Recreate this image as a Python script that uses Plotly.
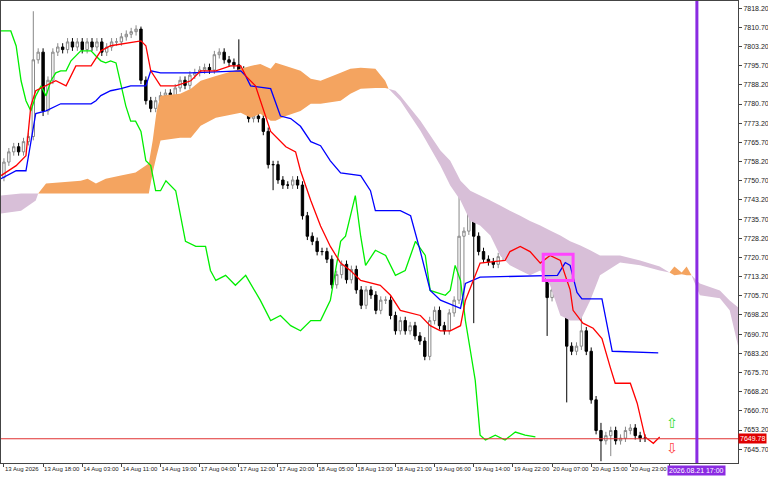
import plotly.graph_objs as go

# hourly closes, bar 0 = 13 Aug 2026
closes = [7758, 7762, 7764, 7762, 7766, 7768, 7798, 7801, 7778, 7790,
          7801, 7803, 7802, 7805, 7803, 7805, 7802, 7805, 7803, 7805,
          7801, 7803, 7805, 7805, 7807, 7808, 7809, 7810, 7790, 7782,
          7779, 7782, 7784, 7785, 7783, 7787, 7790, 7788, 7792, 7793,
          7794, 7795, 7794, 7800, 7801, 7798, 7797, 7796, 7794, 7782,
          7775, 7776, 7775, 7770, 7757, 7757, 7751, 7749, 7749, 7751,
          7749, 7737, 7729, 7727, 7723, 7723, 7720, 7710, 7714, 7718,
          7712, 7716, 7708, 7702, 7708, 7706, 7700, 7704, 7704, 7698,
          7692, 7696, 7692, 7694, 7690, 7688, 7682, 7696, 7700, 7694,
          7692, 7699, 7704, 7729, 7731, 7743, 7729, 7723, 7720, 7719,
          7718, 7721, 7725, 7723, 7721, 7720, 7722, 7723, 7723, 7725,
          7720, 7705, 7708, 7712, 7708, 7686, 7684, 7686, 7692, 7684,
          7665, 7653, 7649, 7651, 7653, 7649, 7650, 7653, 7654, 7651,
          7650, 7650]
first_open = 7752
long_highs = {6: 7817, 28: 7811, 48: 7806, 93: 7748, 95: 7745, 118: 7712, 122: 7656}
long_lows = {8: 7776, 55: 7747, 94: 7700, 96: 7695, 111: 7690, 115: 7664, 122: 7641, 124: 7643}

tenkan = [(-0.6, 7752.7), (2.5, 7756.6), (4.5, 7760.5), (5.5, 7780), (6.5, 7785.9), (8.6, 7787.8),
          (10.6, 7789.8), (12.7, 7787.8), (13.7, 7791.7), (14.7, 7795.6), (17.8, 7795.6), (19.8, 7801.5),
          (21.8, 7803.5), (25.9, 7804.6), (28, 7805.4), (29, 7803.5), (30, 7793.7), (32, 7787.8),
          (35.1, 7787.8), (38.2, 7789.8), (40.2, 7793.7), (43.3, 7793.7), (46.3, 7795.6), (48.4, 7795.6),
          (49.4, 7791.7), (51.4, 7787.8), (52.4, 7782), (53.5, 7776), (54.5, 7770), (57.6, 7764),
          (59.6, 7762), (60.6, 7754.6), (62.7, 7743), (64.7, 7733), (66.7, 7725), (68.8, 7718.5),
          (70.8, 7715.6), (72.9, 7711.7), (76.9, 7709.8), (79, 7705.9), (81, 7700), (85.1, 7698),
          (87.1, 7694), (89.2, 7692), (91.2, 7692), (93.3, 7694), (94.3, 7703.9), (97.3, 7718.5),
          (102.4, 7719.5), (103.4, 7723), (105.5, 7725), (107.5, 7723), (109.6, 7718.5), (111.6, 7721.5),
          (113.7, 7719.5), (114.7, 7713.7), (115.7, 7708), (116.3, 7700), (118.3, 7695), (120.4, 7693),
          (122.2, 7689), (123.9, 7677.7), (124.9, 7671.5), (128, 7671.5), (129.4, 7663.7), (131, 7650.5),
          (132.7, 7648), (134, 7650.5)]
kijun = [(-0.6, 7751.5), (2.5, 7754.6), (4.5, 7754.6), (5.5, 7766), (6.5, 7777), (8.6, 7778),
         (10.6, 7780), (11.6, 7780.8), (17.8, 7780.8), (18.8, 7782), (19.8, 7784), (21.8, 7785.9),
         (23.9, 7786.7), (25.9, 7787.8), (29, 7787.8), (30, 7793.7), (32, 7792.9), (38.2, 7792.9),
         (48.4, 7793.7), (49.4, 7791.7), (50.4, 7787.8), (54.5, 7786.7), (56.5, 7776), (58.6, 7775),
         (60.6, 7772), (62.7, 7766), (64.7, 7764.4), (66.7, 7758.5), (68.8, 7753.8), (72.9, 7752.7),
         (74.9, 7746.8), (75.9, 7739), (81, 7739), (83.1, 7737), (85.1, 7723), (87.1, 7707.8),
         (89.2, 7704), (93.3, 7700.8), (94.3, 7710.5), (97.3, 7713), (113.1, 7713.7), (114.7, 7718.7),
         (115.7, 7717.6), (117.1, 7707), (118.1, 7704.5), (122.2, 7704.5), (124.3, 7684), (133.7, 7683.4)]
chikou = [(-0.6, 7809.3), (1.4, 7809.3), (2.5, 7803.4), (3.5, 7789.8), (4.5, 7782), (5.5, 7778),
          (6.5, 7783.9), (7.6, 7787.8), (8.6, 7783.9), (9.6, 7789.8), (10.6, 7792.9), (11.6, 7793.7),
          (12.7, 7793.7), (13.7, 7797.6), (15.7, 7801.5), (17.8, 7801.5), (18.8, 7799.5), (19.8, 7797.6),
          (20.8, 7796.8), (21.8, 7797.6), (22.9, 7796.8), (23.9, 7787.8), (24.9, 7780), (25.9, 7774),
          (26.9, 7774), (28, 7770), (29, 7758.5), (30, 7756.6), (31, 7746.8), (32, 7746.8), (33.1, 7750.7),
          (35.1, 7746.8), (37.1, 7727), (39.2, 7725), (41.2, 7725), (42.2, 7715.6), (43.3, 7711.7),
          (45.3, 7713.7), (47.3, 7709.8), (49.4, 7713.7), (52.4, 7703.9), (54.5, 7696), (56.5, 7698),
          (58.6, 7694), (60.6, 7692), (62.7, 7696), (64.7, 7696), (66.7, 7703.9), (68.8, 7727),
          (69.8, 7729), (70.8, 7737), (71.8, 7744.9), (72.9, 7729), (73.9, 7717.6), (75.9, 7723.5),
          (78, 7721.5), (80, 7713.7), (82, 7715.6), (84.1, 7727), (86.1, 7721.5), (87.1, 7707.8),
          (90.2, 7705.9), (91.2, 7707.8), (92.2, 7717.6), (93.3, 7711.7), (94.3, 7696), (95.3, 7684.4),
          (96.3, 7672.7), (97.3, 7651.2), (98.4, 7649.3), (100.4, 7651.2), (102.4, 7649.3),
          (104.5, 7652.4), (106.5, 7651.2), (108.6, 7650.5)]

cloud_x = [-0.6, 3.5, 6.5, 7, 8.6, 15.7, 17.1, 18.8, 20.8, 23.9, 26.9, 29.6, 30.4, 31.2, 32, 36,
           38.2, 40.2, 43.3, 48.4, 50.4, 52.4, 54.5, 55.5, 57.6, 60.6, 62.7, 64.7, 68.8, 70.8, 72.9,
           75.9, 77.9, 78.6, 80, 81, 85.1, 89.2, 91.2, 93.3, 95.3, 97.3, 99.4, 101.4, 103.4, 105.5,
           107.5, 109.6, 111.6, 113.7, 115.7, 117.8, 119.8, 121.8, 125.9, 130, 134, 136, 137, 138.5,
           139.5, 140.5, 142.2, 146.3, 148.3, 150]
span_a = [7737.9, 7739, 7743, 7745.7, 7749.6, 7750.7, 7751.5, 7749.6, 7751.5, 7752.7, 7753.9, 7757.4,
          7766.4, 7778, 7783.9, 7784.7, 7786.7, 7789.8, 7791.7, 7794.5, 7795.6, 7796.4, 7794.5, 7796.8,
          7795.6, 7793.7, 7790.6, 7789.8, 7792.9, 7794.5, 7794.9, 7794.5, 7789.8, 7786.7, 7783.9, 7782,
          7770.3, 7756.6, 7748.8, 7743, 7735, 7733.2, 7729.3, 7721.5, 7717.6, 7715.6, 7713.7, 7715.6,
          7709.8, 7698, 7696, 7696, 7703.9, 7713.7, 7718.7, 7717.6, 7715.6, 7714.8, 7717.2, 7714.8,
          7717.2, 7713.7, 7705.9, 7704.7, 7700, 7686.2]
span_b = [7744.9, 7745.7, 7745.7, 7745.7, 7745.7, 7745.7, 7745.7, 7745.7, 7745.7, 7745.7, 7745.7, 7745.7,
          7753.9, 7760.5, 7766.4, 7767.5, 7767.5, 7772.2, 7775.3, 7777.3, 7775.3, 7776.9, 7774.2, 7774.2,
          7776, 7778, 7780.8, 7780.8, 7782, 7784.7, 7786.7, 7787, 7787, 7786.7, 7785.9, 7783.9,
          7774.2, 7762.5, 7758.5, 7750.7, 7746.8, 7744.9, 7743, 7741, 7739, 7737, 7735, 7733.2,
          7731.2, 7729.3, 7727, 7725.4, 7723.5, 7721.5, 7721.5, 7719.5, 7717.2, 7714.8, 7713.7, 7714.1,
          7713.7, 7713.7, 7710.5, 7707.8, 7703.9, 7701.2]

y_ticks = [7645.7 + 7.5 * k for k in range(24)]
x_tick_bars = [8 * k for k in range(18)]
x_tick_text = ["13 Aug 2026", "13 Aug 18:00", "14 Aug 03:00", "14 Aug 11:00", "14 Aug 19:00",
               "17 Aug 04:00", "17 Aug 12:00", "17 Aug 20:00", "18 Aug 05:00", "18 Aug 13:00",
               "18 Aug 21:00", "19 Aug 06:00", "19 Aug 14:00", "19 Aug 22:00", "20 Aug 07:00",
               "20 Aug 15:00", "20 Aug 23:00", "21 Aug"]
last_price = 7649.78
now_bar = 141.6

bars = list(range(len(closes)))
opens = [first_open] + closes[:-1]
highs = [long_highs.get(i, max(o, c) + 1.5) for i, (o, c) in enumerate(zip(opens, closes))]
lows = [long_lows.get(i, min(o, c) - 1.5) for i, (o, c) in enumerate(zip(opens, closes))]

fig = go.Figure()

# cloud polygons, split wherever the spans cross or touch
def flush(seg):
    up = sum(p[1] - p[2] for p in seg) > 0
    xs = [p[0] for p in seg] + [p[0] for p in seg[::-1]]
    ys = [p[1] for p in seg] + [p[2] for p in seg[::-1]]
    fig.add_trace(go.Scatter(x=xs, y=ys, fill='toself', mode='none',
                             fillcolor='#F4A460' if up else '#D8BFD8', hoverinfo='skip'))

seg = [(cloud_x[0], span_a[0], span_b[0])]
for i in range(1, len(cloud_x)):
    x0, a0, b0 = cloud_x[i - 1], span_a[i - 1], span_b[i - 1]
    x1, a1, b1 = cloud_x[i], span_a[i], span_b[i]
    d0, d1 = a0 - b0, a1 - b1
    if d0 * d1 < 0:
        t = d0 / (d0 - d1)
        xc, yc = x0 + t * (x1 - x0), a0 + t * (a1 - a0)
        seg.append((xc, yc, yc))
        flush(seg)
        seg = [(xc, yc, yc)]
    seg.append((x1, a1, b1))
    if d1 == 0 and len(seg) > 1:
        flush(seg)
        seg = [(x1, a1, b1)]
if len(seg) > 1:
    flush(seg)

fig.add_trace(go.Candlestick(
    x=bars, open=opens, high=highs, low=lows, close=closes, whiskerwidth=0,
    increasing=dict(line=dict(color='#888888', width=1), fillcolor='white'),
    decreasing=dict(line=dict(color='black', width=1), fillcolor='black')))

for pts, col in [(chikou, '#00EE00'), (kijun, '#0000FF'), (tenkan, '#FF0000')]:
    fig.add_trace(go.Scatter(x=[p[0] for p in pts], y=[p[1] for p in pts], mode='lines',
                             line=dict(color=col, width=1.3)))

fig.add_shape(type='rect', x0=110.2, x1=116.3, y0=7711.7, y1=7721.9,
              line=dict(color='#FF44FF', width=3))
fig.add_hline(y=last_price, line=dict(color='#E03030', width=1))
fig.add_vline(x=now_bar, line=dict(color='#8A2BE2', width=3))

fig.add_annotation(x=1, xref='paper', y=last_price, text='%.2f' % last_price, showarrow=False,
                   xanchor='left', bgcolor='#E00000', font=dict(color='white', size=7,
                   family='Liberation Sans'), borderpad=1)
fig.add_annotation(x=now_bar, y=0, yref='paper', text='2026.08.21 17:00', showarrow=False,
                   yanchor='top', xanchor='center', bgcolor='#8A2BE2', yshift=-2,
                   font=dict(color='white', size=7, family='Liberation Sans'), borderpad=1)
fig.add_annotation(x=136.5, y=7656, text='⇧', showarrow=False,
                   font=dict(color='#33DD33', size=14, family='DejaVu Sans'))
fig.add_annotation(x=136.5, y=7646, text='⇩', showarrow=False,
                   font=dict(color='#FF4444', size=14, family='DejaVu Sans'))

fig.update_layout(
    width=768, height=480, showlegend=False, plot_bgcolor='white', paper_bgcolor='white',
    margin=dict(l=1, r=30, t=1, b=17),
    xaxis=dict(range=[-0.6, 150], rangeslider=dict(visible=False), showgrid=False,
               tickvals=x_tick_bars, ticktext=x_tick_text, ticklabelposition='outside right',
               tickangle=0, ticks='outside', ticklen=3, tickcolor='#444', showline=True,
               linecolor='#444', mirror=True, zeroline=False,
               tickfont=dict(size=6, family='Liberation Sans', color='#222')),
    yaxis=dict(range=[7640.3, 7821], side='right', showgrid=False, tickvals=y_ticks,
               tickformat='.2f', ticks='outside', ticklen=3, tickcolor='#444', showline=True,
               linecolor='#444', mirror=True, zeroline=False, automargin=False,
               tickfont=dict(size=7, family='Liberation Sans', color='#222')),
)

fig.write_html("out.html", config={'displayModeBar': False},
               post_script="document.body.style.margin='0';")
